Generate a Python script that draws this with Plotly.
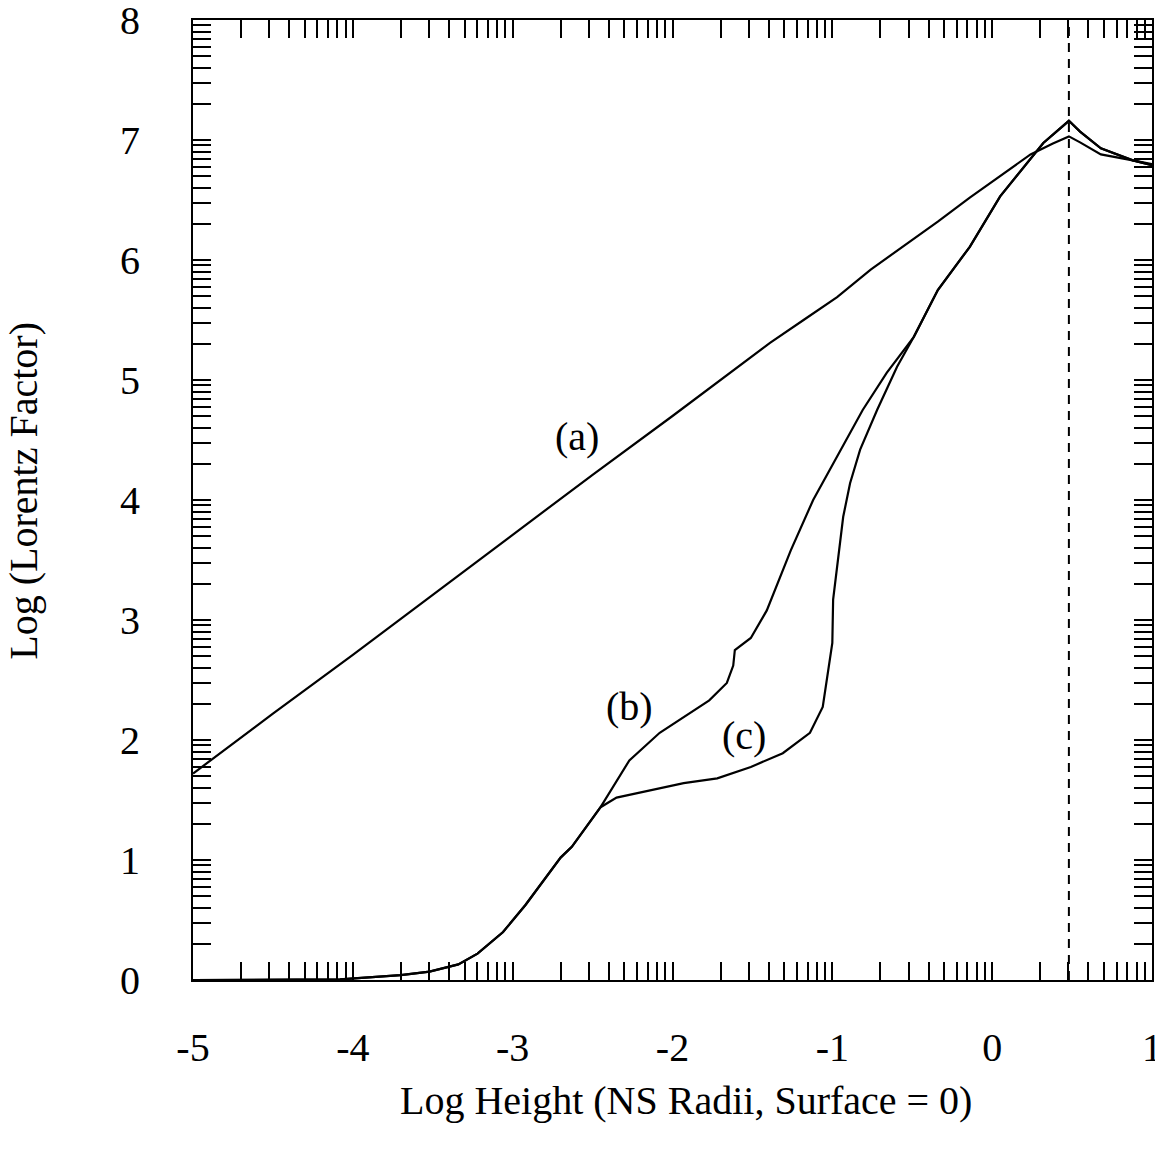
import numpy as np
import plotly.graph_objects as go

# Curve (a)
a_x = [-5.0, -4.5, -4.0, -3.5, -3.0, -2.5, -2.0, -1.5, -1.39, -1.18, -0.97, -0.76,
       -0.56, -0.34, -0.14, 0.07, 0.24, 0.38, 0.48, 0.55, 0.68, 0.88, 1.0]
a_y = [1.72, 2.22, 2.71, 3.21, 3.71, 4.21, 4.70, 5.20, 5.31, 5.50, 5.69, 5.92,
       6.11, 6.32, 6.52, 6.72, 6.88, 6.97, 7.03, 6.98, 6.88, 6.83, 6.80]

# Curve (b)
b_x = [-5.0, -4.5, -4.08, -3.7, -3.52, -3.34, -3.22, -3.06, -2.92, -2.70, -2.63, -2.45,
       -2.27, -2.08, -1.93, -1.77, -1.66, -1.62, -1.61, -1.51, -1.41, -1.31, -1.26, -1.12,
       -0.97, -0.81, -0.66, -0.49, -0.34, -0.14, 0.05, 0.32, 0.48, 0.55, 0.68, 0.88, 1.0]
b_y = [0.0, 0.0, 0.005, 0.04, 0.07, 0.13, 0.22, 0.40, 0.625, 1.02, 1.11, 1.44,
       1.83, 2.06, 2.19, 2.33, 2.475, 2.62, 2.75, 2.85, 3.08, 3.42, 3.58, 4.0,
       4.36, 4.75, 5.06, 5.36, 5.75, 6.11, 6.53, 6.975, 7.16, 7.07, 6.93, 6.83, 6.79]

# Curve (c)
c_x = [-5.0, -4.5, -4.08, -3.7, -3.52, -3.34, -3.22, -3.06, -2.92, -2.70, -2.63, -2.45,
       -2.35, -2.14, -1.93, -1.72, -1.51, -1.31, -1.14, -1.06, -1.03, -1.0, -0.995,
       -0.983, -0.97, -0.96, -0.932, -0.889, -0.826, -0.72, -0.595, -0.49,
       -0.34, -0.14, 0.05, 0.32, 0.48, 0.55, 0.68, 0.88, 1.0]
c_y = [0.0, 0.0, 0.005, 0.04, 0.07, 0.13, 0.22, 0.40, 0.625, 1.02, 1.11, 1.44,
       1.52, 1.58, 1.64, 1.68, 1.775, 1.89, 2.06, 2.275, 2.525, 2.81, 3.17,
       3.30, 3.45, 3.60, 3.86, 4.14, 4.42, 4.75, 5.11, 5.36,
       5.75, 6.11, 6.53, 6.975, 7.16, 7.07, 6.93, 6.83, 6.79]

x_decades = [-5, -4, -3, -2, -1, 0]
y_decades = [0, 1, 2, 3, 4, 5, 6, 7]
x_labels = ["-5", "-4", "-3", "-2", "-1", "0", "1"]
y_labels = ["0", "1", "2", "3", "4", "5", "6", "7", "8"]
dashed_x = 0.48

FONT = "Liberation Serif, Times New Roman, serif"
FS = 40

def log_ticks(decades):
    vals = [float(decades[0])]
    for d in decades:
        for k in range(2, 11):
            vals.append(d + np.log10(k))
    return vals

xt = log_ticks(x_decades)
yt = log_ticks(y_decades)
xtext = [x_labels[int(round(v)) + 5] if abs(v - round(v)) < 1e-9 else "" for v in xt]
ytext = [y_labels[int(round(v))] if abs(v - round(v)) < 1e-9 else "" for v in yt]

fig = go.Figure()
for xs, ys in [(a_x, a_y), (b_x, b_y), (c_x, c_y)]:
    fig.add_trace(go.Scatter(x=xs, y=ys, mode="lines",
                             line=dict(color="black", width=2.2),
                             showlegend=False, cliponaxis=True))

fig.add_shape(type="line", x0=dashed_x, x1=dashed_x, y0=0, y1=8, xref="x", yref="y",
              line=dict(color="black", width=2, dash="9px,7px"))

for txt, x, y in [("(a)", -2.60, 4.53), ("(b)", -2.27, 2.28), ("(c)", -1.55, 2.04)]:
    fig.add_annotation(x=x, y=y, text=txt, showarrow=False,
                       font=dict(family=FONT, size=FS, color="black"))

fig.add_annotation(text="Log Height (NS Radii, Surface = 0)", xref="paper", yref="paper",
                   x=0.514, y=-0.125, showarrow=False, xanchor="center", yanchor="middle",
                   font=dict(family=FONT, size=FS, color="black"))
fig.add_annotation(text="Log (Lorentz Factor)", xref="paper", yref="paper",
                   x=-0.177, y=0.51, showarrow=False, textangle=-90,
                   xanchor="center", yanchor="middle",
                   font=dict(family=FONT, size=FS, color="black"))

axis_common = dict(showgrid=False, zeroline=False, showline=True, linecolor="black",
                   linewidth=2, mirror="ticks", ticks="inside", ticklen=18,
                   tickwidth=2, tickcolor="black", tickmode="array",
                   automargin=False, ticklabeloverflow="allow",
                   tickfont=dict(family=FONT, size=FS, color="black"))

fig.update_xaxes(range=[-5, 1], tickvals=xt, ticktext=xtext, ticklabelstandoff=31,
                 **axis_common)
fig.update_yaxes(range=[0, 8], tickvals=yt, ticktext=ytext, ticklabelstandoff=43,
                 **axis_common)

fig.update_layout(width=1155, height=1151, margin=dict(l=193, r=3, t=20, b=171),
                  plot_bgcolor="white", paper_bgcolor="white",
                  font=dict(family=FONT, size=FS, color="black"))

fig.write_html("out.html", config={"displayModeBar": False},
               post_script="document.body.style.margin='0px';document.body.style.padding='0px';")
